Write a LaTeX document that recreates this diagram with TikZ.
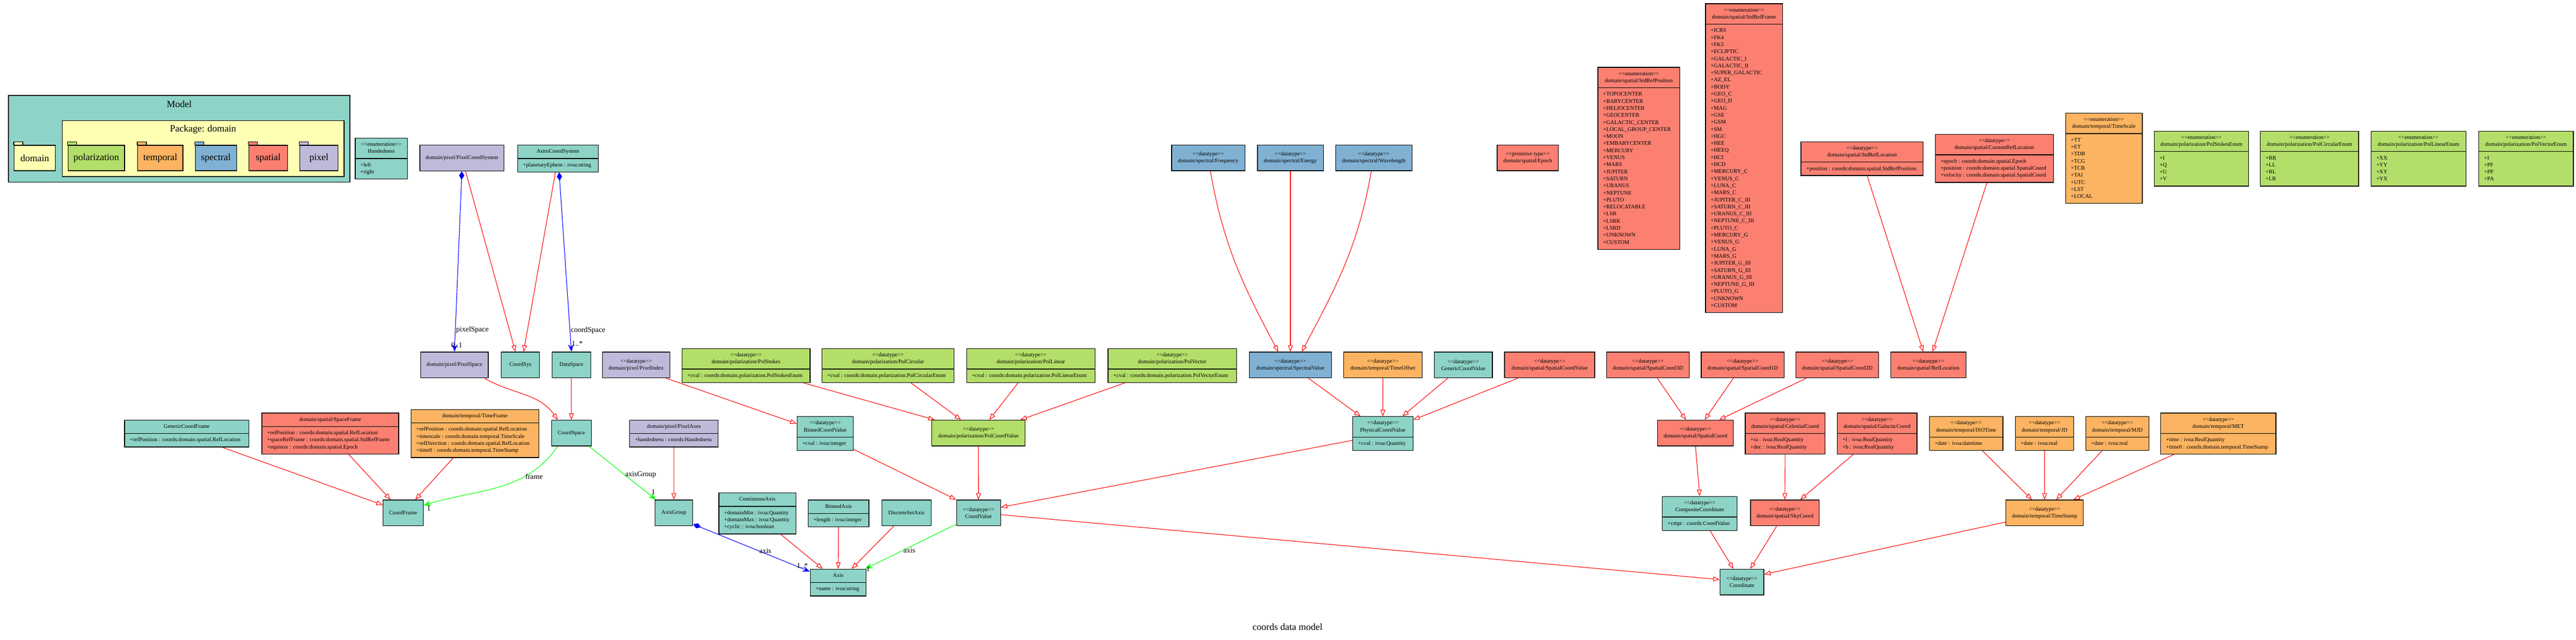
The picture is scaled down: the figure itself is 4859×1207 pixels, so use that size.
\documentclass[tikz,border=0pt]{standalone}
\usepackage{fontspec}
\setmainfont{Liberation Serif}
\usetikzlibrary{shapes.multipart,arrows.meta}

\definecolor{teal3}{HTML}{8DD3C7}
\definecolor{yel3}{HTML}{FFFFB3}
\definecolor{pur3}{HTML}{BEBADA}
\definecolor{sal3}{HTML}{FB8072}
\definecolor{blu3}{HTML}{80B1D3}
\definecolor{ora3}{HTML}{FDB462}
\definecolor{grn3}{HTML}{B3DE69}

\newcommand{\st}[1]{<\kern0pt<#1>\kern0pt>}
\newcommand{\cl}[1]{\begin{tabular}{@{}c@{}}#1\end{tabular}}
\newcommand{\al}[1]{\begin{tabular}{@{}l@{}}#1\end{tabular}}

\tikzset{
  box/.style={draw=black, line width=1.3pt, anchor=north west, font=\fontsize{10.5}{13.3}\selectfont, inner xsep=10pt, inner ysep=5.35pt},
  cls/.style={box, minimum height=48.7pt, align=center},
  clsa/.style={box, rectangle split, rectangle split parts=2, rectangle split part align={center,left}},
  gen/.style={draw=red, line width=1.1pt, -{Triangle[open,length=12pt,width=9pt]}},
  comp/.style={draw=blue, line width=1.1pt, {Diamond[length=16pt,width=10pt]}-{Stealth[length=14pt,width=11pt,inset=5pt]}},
  assoc/.style={draw=green, line width=1.1pt, -{Stealth[length=14pt,width=11pt,inset=5pt]}},
  lbl/.style={font=\fontsize{14}{16}\selectfont, inner sep=1pt},
  big/.style={font=\fontsize{18}{21}\selectfont},
  folder/.style={draw=black, line width=1.3pt, anchor=north west, minimum height=48pt, big, inner sep=0pt},
  pkgbox/.style={draw=black, line width=1.3pt, anchor=north west, inner sep=0pt}
}

\begin{document}
\begin{tikzpicture}[x=1pt, y=-1pt]
    \path[use as bounding box, fill=white] (0,0) rectangle (4859,1207);

    \node[pkgbox, fill=teal3, minimum width=644pt, minimum height=163.4pt] (model) at (15.4,179.3) {};
    \node[big] (modeltitle) at ([yshift=-17pt]model.north) {Model};
    \node[pkgbox, fill=yel3, minimum width=531.7pt, minimum height=105.6pt] (pkg) at (116.5,226.7) {};
    \node[big] (pkgtitle) at ([yshift=-17.3pt]pkg.north) {Package: domain};
    \foreach \nm/\lft/\fw/\col/\txt in {fdom/26/77.8/yel3/domain, fpol/127.7/106.6/grn3/polarization, ftmp/258.9/85.5/ora3/temporal, fspc/367.6/77.9/blu3/spectral, fspa/468.6/73/sal3/spatial, fpix/564.7/72.3/pur3/pixel} {
        \node[folder, fill=\col, minimum width=\fw pt] (\nm) at (\lft,273.3) {\txt};
        \draw[line width=1.3pt, fill=\col] (\nm.north west) rectangle ++(17,-6);
    }

    \node[clsa, fill=teal3, minimum width=98.3pt] (hand) at (669.2,259.7) {\cl{\st{enumeration}\\Handedness} \nodepart{two} \al{+left\\+right}};
    \node[cls, fill=pur3, minimum width=158.5pt] (pcs) at (791.3,273) {domain/pixel/PixelCoordSystem};
    \node[clsa, fill=teal3, minimum width=151.8pt] (acs) at (975.8,273) {\cl{AstroCoordSystem} \nodepart{two} \al{+planetaryEphem : ivoa:string}};

    \node[cls, fill=blu3, minimum width=138.4pt] (freq) at (2209.2,272.7) {\st{datatype}\\domain/spectral/Frequency};
    \node[cls, fill=blu3, minimum width=124.3pt] (energy) at (2371.2,272.7) {\st{datatype}\\domain/spectral/Energy};
    \node[cls, fill=blu3, minimum width=144.1pt] (wave) at (2518.5,272.7) {\st{datatype}\\domain/spectral/Wavelength};
    \node[cls, fill=sal3, minimum width=115.5pt] (epoch) at (2823.3,272.7) {\st{primitive type}\\domain/spatial/Epoch};

    \node[clsa, fill=sal3, minimum width=154.6pt] (srpos) at (3013.3,126.3) {\cl{\st{enumeration}\\domain/spatial/StdRefPosition} \nodepart{two} \al{+TOPOCENTER\\+BARYCENTER\\+HELIOCENTER\\+GEOCENTER\\+GALACTIC\_CENTER\\+LOCAL\_GROUP\_CENTER\\+MOON\\+EMBARYCENTER\\+MERCURY\\+VENUS\\+MARS\\+JUPITER\\+SATURN\\+URANUS\\+NEPTUNE\\+PLUTO\\+RELOCATABLE\\+LSR\\+LSRK\\+LSRD\\+UNKNOWN\\+CUSTOM}};
    \node[clsa, fill=sal3, minimum width=145.4pt] (srframe) at (3216.3,6.25) {\cl{\st{enumeration}\\domain/spatial/StdRefFrame} \nodepart{two} \al{+ICRS\\+FK4\\+FK5\\+ECLIPTIC\\+GALACTIC\_I\\+GALACTIC\_II\\+SUPER\_GALACTIC\\+AZ\_EL\\+BODY\\+GEO\_C\\+GEO\_D\\+MAG\\+GSE\\+GSM\\+SM\\+HGC\\+HEE\\+HEEQ\\+HCI\\+HCD\\+MERCURY\_C\\+VENUS\_C\\+LUNA\_C\\+MARS\_C\\+JUPITER\_C\_III\\+SATURN\_C\_III\\+URANUS\_C\_III\\+NEPTUNE\_C\_III\\+PLUTO\_C\\+MERCURY\_G\\+VENUS\_G\\+LUNA\_G\\+MARS\_G\\+JUPITER\_G\_III\\+SATURN\_G\_III\\+URANUS\_G\_III\\+NEPTUNE\_G\_III\\+PLUTO\_G\\+UNKNOWN\\+CUSTOM}};
    \node[clsa, fill=sal3, minimum width=230.6pt] (srloc) at (3396.4,266.5) {\cl{\st{datatype}\\domain/spatial/StdRefLocation} \nodepart{two} \al{+position : coords:domain.spatial.StdRefPosition}};
    \node[clsa, fill=sal3, minimum width=223.2pt] (crloc) at (3649.6,252.7) {\cl{\st{datatype}\\domain/spatial/CustomRefLocation} \nodepart{two} \al{+epoch : coords:domain.spatial.Epoch\\+position : coords:domain.spatial.SpatialCoord\\+velocity : coords:domain.spatial.SpatialCoord}};
    \node[clsa, fill=ora3, minimum width=144.7pt] (tscale) at (3895.5,212.7) {\cl{\st{enumeration}\\domain/temporal/TimeScale} \nodepart{two} \al{+TT\\+ET\\+TDB\\+TCG\\+TCB\\+TAI\\+UTC\\+LST\\+LOCAL}};
    \node[clsa, fill=grn3, minimum width=177.6pt] (pstokese) at (4063,246.5) {\cl{\st{enumeration}\\domain/polarization/PolStokesEnum} \nodepart{two} \al{+I\\+Q\\+U\\+V}};
    \node[clsa, fill=grn3, minimum width=185.4pt] (pcirce) at (4263,246.5) {\cl{\st{enumeration}\\domain/polarization/PolCircularEnum} \nodepart{two} \al{+RR\\+LL\\+RL\\+LR}};
    \node[clsa, fill=grn3, minimum width=178.9pt] (pline) at (4471.6,246.5) {\cl{\st{enumeration}\\domain/polarization/PolLinearEnum} \nodepart{two} \al{+XX\\+YY\\+XY\\+YX}};
    \node[clsa, fill=grn3, minimum width=178.2pt] (pvece) at (4675,246.5) {\cl{\st{enumeration}\\domain/polarization/PolVectorEnum} \nodepart{two} \al{+I\\+PF\\+PP\\+PA}};

    \node[cls, fill=pur3, minimum width=127.7pt] (pspace) at (792.7,663.3) {domain/pixel/PixelSpace};
    \node[cls, fill=teal3, minimum width=72pt] (csys) at (945,663.3) {CoordSys};
    \node[cls, fill=teal3, minimum width=72.7pt] (dspace) at (1040.8,663.3) {DataSpace};
    \node[cls, fill=pur3, minimum width=127pt] (pindex) at (1135.8,663.3) {\st{datatype}\\domain/pixel/PixelIndex};
    \node[clsa, fill=grn3, minimum width=241.7pt] (pstokes) at (1285.7,656.7) {\cl{\st{datatype}\\domain/polarization/PolStokes} \nodepart{two} \al{+cval : coords:domain.polarization.PolStokesEnum}};
    \node[clsa, fill=grn3, minimum width=249.4pt] (pcirc) at (1549.7,656.7) {\cl{\st{datatype}\\domain/polarization/PolCircular} \nodepart{two} \al{+cval : coords:domain.polarization.PolCircularEnum}};
    \node[clsa, fill=grn3, minimum width=242.3pt] (plin) at (1822.7,656.7) {\cl{\st{datatype}\\domain/polarization/PolLinear} \nodepart{two} \al{+cval : coords:domain.polarization.PolLinearEnum}};
    \node[clsa, fill=grn3, minimum width=242.3pt] (pvec) at (2089.3,656.7) {\cl{\st{datatype}\\domain/polarization/PolVector} \nodepart{two} \al{+cval : coords:domain.polarization.PolVectorEnum}};
    \node[cls, fill=blu3, minimum width=154.9pt] (specv) at (2355.9,663.3) {\st{datatype}\\domain/spectral/SpectralValue};
    \node[cls, fill=ora3, minimum width=148pt] (toffset) at (2533.8,663.3) {\st{datatype}\\domain/temporal/TimeOffset};
    \node[cls, fill=teal3, minimum width=109.7pt] (gcv) at (2704.7,663.3) {\st{datatype}\\GenericCoordValue};
    \node[cls, fill=sal3, minimum width=170pt] (scv) at (2837.4,663.3) {\st{datatype}\\domain/spatial/SpatialCoordValue};
    \node[cls, fill=sal3, minimum width=156.3pt] (sc3) at (3029.7,663.3) {\st{datatype}\\domain/spatial/SpatialCoord3D};
    \node[cls, fill=sal3, minimum width=156.2pt] (sc1) at (3208.3,663.3) {\st{datatype}\\domain/spatial/SpatialCoord1D};
    \node[cls, fill=sal3, minimum width=156.2pt] (sc2) at (3386.9,663.3) {\st{datatype}\\domain/spatial/SpatialCoord2D};
    \node[cls, fill=sal3, minimum width=141.8pt] (refloc) at (3566,663.3) {\st{datatype}\\domain/spatial/RefLocation};

    \node[clsa, fill=teal3, minimum width=234.3pt] (gcf) at (234.3,791.7) {\cl{GenericCoordFrame} \nodepart{two} \al{+refPosition : coords:domain.spatial.RefLocation}};
    \node[clsa, fill=sal3, minimum width=258.1pt] (sframe) at (493.2,778.3) {\cl{domain/spatial/SpaceFrame} \nodepart{two} \al{+refPosition : coords:domain.spatial.RefLocation\\+spaceRefFrame : coords:domain.spatial.StdRefFrame\\+equinox : coords:domain.spatial.Epoch}};
    \node[clsa, fill=ora3, minimum width=241.3pt] (tframe) at (774.5,771.7) {\cl{domain/temporal/TimeFrame} \nodepart{two} \al{+refPosition : coords:domain.spatial.RefLocation\\+timescale : coords:domain.temporal.TimeScale\\+refDirection : coords:domain.spatial.RefLocation\\+time0 : coords:domain.temporal.TimeStamp}};
    \node[cls, fill=teal3, minimum width=75.3pt] (cspace) at (1039.5,791.7) {CoordSpace};
    \node[clsa, fill=pur3, minimum width=167.1pt] (paxes) at (1186.9,791.7) {\cl{domain/pixel/PixelAxes} \nodepart{two} \al{+handedness : coords:Handedness}};
    \node[clsa, fill=teal3, minimum width=106.4pt] (bcv) at (1502.6,785) {\cl{\st{datatype}\\BinnedCoordValue} \nodepart{two} \al{+cval : ivoa:integer}};
    \node[cls, fill=grn3, minimum width=176pt] (pcv) at (1757,791.7) {\st{datatype}\\domain/polarization/PolCoordValue};
    \node[clsa, fill=teal3, minimum width=113.5pt] (physcv) at (2551,785) {\cl{\st{datatype}\\PhysicalCoordValue} \nodepart{two} \al{+cval : ivoa:Quantity}};
    \node[cls, fill=sal3, minimum width=142.9pt] (scoord) at (3126,791.7) {\st{datatype}\\domain/spatial/SpatialCoord};
    \node[clsa, fill=sal3, minimum width=150.5pt] (celest) at (3291.2,778.3) {\cl{\st{datatype}\\domain/spatial/CelestialCoord} \nodepart{two} \al{+ra : ivoa:RealQuantity\\+dec : ivoa:RealQuantity}};
    \node[clsa, fill=sal3, minimum width=150.5pt] (galac) at (3464.7,778.3) {\cl{\st{datatype}\\domain/spatial/GalacticCoord} \nodepart{two} \al{+l : ivoa:RealQuantity\\+b : ivoa:RealQuantity}};
    \node[clsa, fill=ora3, minimum width=138.4pt] (isotime) at (3638.8,785) {\cl{\st{datatype}\\domain/temporal/ISOTime} \nodepart{two} \al{+date : ivoa:datetime}};
    \node[clsa, fill=ora3, minimum width=109.7pt] (jd) at (3801,785) {\cl{\st{datatype}\\domain/temporal/JD} \nodepart{two} \al{+date : ivoa:real}};
    \node[clsa, fill=ora3, minimum width=118.9pt] (mjd) at (3933.7,785) {\cl{\st{datatype}\\domain/temporal/MJD} \nodepart{two} \al{+date : ivoa:real}};
    \node[clsa, fill=ora3, minimum width=217.3pt] (met) at (4075,778.3) {\cl{\st{datatype}\\domain/temporal/MET} \nodepart{two} \al{+time : ivoa:RealQuantity\\+time0 : coords:domain.temporal.TimeStamp}};

    \node[cls, fill=teal3, minimum width=75.7pt] (cframe) at (721.9,942.3) {CoordFrame};
    \node[cls, fill=teal3, minimum width=71.4pt] (agroup) at (1234.7,942.3) {AxisGroup};
    \node[clsa, fill=teal3, minimum width=145.4pt] (caxis) at (1355.2,929) {\cl{ContinuousAxis} \nodepart{two} \al{+domainMin : ivoa:Quantity\\+domainMax : ivoa:Quantity\\+cyclic : ivoa:boolean}};
    \node[clsa, fill=teal3, minimum width=114.8pt] (baxis) at (1523.6,942.3) {\cl{BinnedAxis} \nodepart{two} \al{+length : ivoa:integer}};
    \node[cls, fill=teal3, minimum width=93.1pt] (dsaxis) at (1662.6,942.3) {DiscreteSetAxis};
    \node[cls, fill=teal3, minimum width=82.9pt] (cval) at (1803.6,942.3) {\st{datatype}\\CoordValue};
    \node[clsa, fill=teal3, minimum width=140.9pt] (ccoord) at (3135,935.7) {\cl{\st{datatype}\\CompositeCoordinate} \nodepart{two} \al{+cmpt : coords:CoordValue}};
    \node[cls, fill=sal3, minimum width=129.5pt] (sky) at (3301.4,942.3) {\st{datatype}\\domain/spatial/SkyCoord};
    \node[cls, fill=ora3, minimum width=146.1pt] (tstamp) at (3782.9,942.3) {\st{datatype}\\domain/temporal/TimeStamp};

    \node[clsa, fill=teal3, minimum width=105.3pt] (axis) at (1527.7,1072.7) {\cl{Axis} \nodepart{two} \al{+name : ivoa:string}};
    \node[cls, fill=teal3, minimum width=82.8pt] (coordin) at (3243.6,1072.7) {\st{datatype}\\Coordinate};

    \node[big] (title) at (2428.5,1182) {coords data model};

    \draw[comp] (pcs.south) -- node[lbl, pos=0.88, anchor=west] {pixelSpace} node[lbl, pos=0.965, xshift=4pt] {0..1} (pspace.north);
    \draw[gen] ([xshift=7pt]pcs.south) -- ([xshift=-9.4pt]csys.north);
    \draw[gen] ([xshift=-4.7pt]acs.south) -- ([xshift=6pt]csys.north);
    \draw[comp] ([xshift=2.3pt]acs.south) -- node[lbl, pos=0.88, anchor=west] {coordSpace} node[lbl, pos=0.955, anchor=west] {1..*} (dspace.north);
    \draw[gen] ([xshift=-8pt]pspace.south east) to[out=-30, in=125] ([xshift=12.5pt]cspace.north west);
    \draw[gen] (dspace.south) -- (cspace.north);
    \draw[assoc] ([xshift=12.5pt]cspace.south west) to[out=-125, in=17] node[lbl, pos=0.3, anchor=west] {frame} node[lbl, pos=1, anchor=west, xshift=5pt, yshift=-6pt] {1} ([yshift=-10.7pt]cframe.north east);
    \draw[gen] ([xshift=-50.6pt]gcf.south east) -- ([yshift=-10pt]cframe.north west);
    \draw[gen] ([xshift=34.7pt]sframe.south) -- ([xshift=14.7pt]cframe.north west);
    \draw[gen] ([xshift=-40.8pt]tframe.south) -- ([xshift=-15.6pt]cframe.north east);
    \draw[assoc] ([xshift=-5pt]cspace.south east) -- node[lbl, pos=0.53, anchor=west] {axisGroup} node[lbl, pos=0.86, anchor=west, xshift=8pt] {1} ([xshift=2.3pt]agroup.north west);
    \draw[gen] (paxes.south) -- (agroup.north);
    \draw[gen] ([xshift=-7.8pt]pindex.south east) -- ([yshift=-14pt]bcv.north west);
    \draw[gen] ([xshift=-14pt]pstokes.south east) -- ([xshift=6pt]pcv.north west);
    \draw[gen] ([xshift=43pt]pcirc.south) -- ([xshift=-33pt]pcv.north);
    \draw[gen] ([xshift=-24pt]plin.south) -- ([xshift=20.4pt]pcv.north);
    \draw[gen] ([xshift=33pt]pvec.south west) -- ([xshift=-9.5pt]pcv.north east);
    \draw[gen] ([yshift=2.7pt]bcv.south east) -- (cval.north west);
    \draw[gen] (pcv.south) -- (cval.north);
    \draw[gen] ([yshift=19.7pt]physcv.south west) -- ([yshift=-14.4pt]cval.north east);
    \draw[gen] ([yshift=-28.4pt]cval.north east) -- ([yshift=-20.3pt]coordin.north west);
    \draw[assoc] ([yshift=3.7pt]cval.south west) -- node[lbl, pos=0.59, anchor=west] {axis} node[lbl, pos=1, anchor=west] {1} ([xshift=-2pt]axis.north east);
    \draw[comp] ([yshift=3.7pt]agroup.south east) -- node[lbl, pos=0.56, anchor=west] {axis} node[lbl, pos=0.88, anchor=west] {1..*} ([yshift=-5.3pt]axis.north west);
    \draw[gen] ([xshift=44pt]caxis.south) -- ([xshift=24pt]axis.north west);
    \draw[gen] (baxis.south) -- (axis.north);
    \draw[gen] ([xshift=-24pt]dsaxis.south) -- ([xshift=25.5pt]axis.north);
    \draw[gen] ([xshift=4pt]freq.south) to[out=-80, in=118] ([xshift=-23pt]specv.north);
    \draw[gen] (energy.south) -- (specv.north);
    \draw[gen] ([xshift=-4.5pt]wave.south) to[out=-100, in=62] ([xshift=21.4pt]specv.north);
    \draw[gen] ([xshift=34pt]specv.south) -- ([xshift=15.3pt]physcv.north west);
    \draw[gen] (toffset.south) -- (physcv.north);
    \draw[gen] ([xshift=-29.5pt]gcv.south) -- ([xshift=-20.5pt]physcv.north east);
    \draw[gen] ([xshift=25.6pt]scv.south west) -- ([yshift=-6.7pt]physcv.north east);
    \draw[gen] ([xshift=17.5pt]sc3.south) -- ([xshift=-17.9pt]scoord.north);
    \draw[gen] ([xshift=-17.5pt]sc1.south) -- ([xshift=17.3pt]scoord.north);
    \draw[gen] ([xshift=20.4pt]sc2.south west) -- ([xshift=-27.4pt]scoord.north east);
    \draw[gen] (scoord.south) -- (ccoord.north);
    \draw[gen] (celest.south) -- (sky.north);
    \draw[gen] ([xshift=31.3pt]galac.south west) -- ([xshift=-36.4pt]sky.north east);
    \draw[gen] ([xshift=19.5pt]ccoord.south) -- ([xshift=-16pt]coordin.north);
    \draw[gen] ([xshift=-15.6pt]sky.south) -- ([xshift=15.8pt]coordin.north);
    \draw[gen] ([yshift=7.7pt]tstamp.south west) -- ([yshift=-10.3pt]coordin.north east);
    \draw[gen] ([xshift=30.8pt]isotime.south) -- ([xshift=-24pt]tstamp.north);
    \draw[gen] (jd.south) -- (tstamp.north);
    \draw[gen] ([xshift=-29pt]mjd.south) -- ([xshift=22pt]tstamp.north);
    \draw[gen] ([xshift=26pt]met.south west) -- ([xshift=-19.3pt]tstamp.north east);
    \draw[gen] ([xshift=9.7pt]srloc.south) -- ([xshift=-9.8pt]refloc.north);
    \draw[gen] ([xshift=-14pt]crloc.south) -- ([xshift=7.8pt]refloc.north);
\end{tikzpicture}
\end{document}
